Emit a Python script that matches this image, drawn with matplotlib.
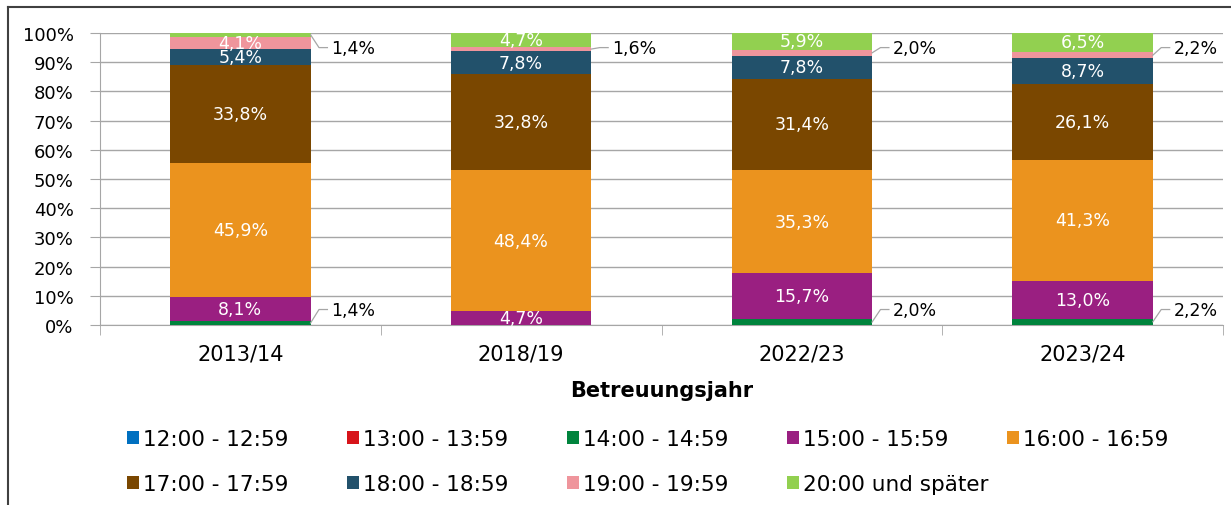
import numpy as np
import matplotlib
matplotlib.use("Agg")
import matplotlib.pyplot as plt
from matplotlib.lines import Line2D
from matplotlib.ticker import FixedLocator

# Betreuungsjahre und Anteile (%) je Abholzeit
years = ["2013/14", "2018/19", "2022/23", "2023/24"]
labels = ["12:00 - 12:59", "13:00 - 13:59", "14:00 - 14:59", "15:00 - 15:59",
          "16:00 - 16:59", "17:00 - 17:59", "18:00 - 18:59", "19:00 - 19:59",
          "20:00 und später"]
v12 = [0.0, 0.0, 0.0, 0.0]
v13 = [0.0, 0.0, 0.0, 0.0]
v14 = [1.4, 0.0, 2.0, 2.2]
v15 = [8.1, 4.7, 15.7, 13.0]
v16 = [45.9, 48.4, 35.3, 41.3]
v17 = [33.8, 32.8, 31.4, 26.1]
v18 = [5.4, 7.8, 7.8, 8.7]
v19 = [4.1, 1.6, 2.0, 2.2]
v20 = [1.4, 4.7, 5.9, 6.5]
colors = ["#0070C0", "#D7141A", "#00843D", "#9A1F81", "#EB931E",
          "#7A4700", "#22516B", "#EF959C", "#92D050"]

series = [v12, v13, v14, v15, v16, v17, v18, v19, v20]

plt.rcParams['font.family'] = ['DejaVu Sans']
fig = plt.figure(figsize=(12.31, 5.06), dpi=100)
ax = fig.add_axes([100 / 1231, 180 / 506, 1123 / 1231, 292 / 506])

x = np.arange(len(years))
w = 0.5
bottom = np.zeros(len(years))
handles = []
for vals, col, lab in zip(series, colors, labels):
    vals = np.array(vals)
    b = ax.bar(x, vals, w, bottom=bottom, color=col, label=lab, zorder=3)
    handles.append(b)
    for i, v in enumerate(vals):
        if v <= 0:
            continue
        txt = f"{v:.1f}%".replace(".", ",")
        yc = bottom[i] + v / 2
        if v >= 3:
            ax.text(x[i], yc, txt, ha="center", va="center", color="white",
                    fontsize=12.5, zorder=4)
        else:
            # Beschriftung mit Führungslinie rechts neben dem Balken
            yl = 95.0 if yc > 50 else 5.3
            x0 = x[i] + w / 2
            ax.plot([x0, x0 + 0.03, x0 + 0.06], [yc, yl, yl], color="#A6A6A6",
                    lw=0.9, zorder=4, clip_on=False)
            ax.text(x0 + 0.075, yl, txt, ha="left", va="center",
                    color="black", fontsize=12.5, zorder=4)
    bottom += vals

ax.set_ylim(0, 100)
ax.set_xlim(-0.5, 3.5)
ax.set_yticks(np.arange(0, 101, 10))
ax.set_yticklabels([f"{t}%" for t in range(0, 101, 10)], fontsize=13)
ax.set_xticks(x)
ax.set_xticklabels(years, fontsize=15)
ax.xaxis.set_minor_locator(FixedLocator([-0.5, 0.5, 1.5, 2.5, 3.5]))
ax.tick_params(axis="x", which="major", length=0, pad=13)
ax.tick_params(axis="x", which="minor", length=7, color="#A6A6A6")
ax.tick_params(axis="y", length=7, color="#A6A6A6", pad=12)
ax.grid(axis="y", color="#A6A6A6", lw=1, zorder=0)
for s in ["top", "right"]:
    ax.spines[s].set_visible(False)
for s in ["left", "bottom"]:
    ax.spines[s].set_color("#A6A6A6")
ax.set_xlabel("Betreuungsjahr", fontsize=15, fontweight="bold", labelpad=12)

# Legende in zwei Zeilen
leg_kw = dict(loc="center left", frameon=False, fontsize=15.5,
              handlelength=0.55, handleheight=0.55, handletextpad=0.2,
              columnspacing=2.72, borderaxespad=0, borderpad=0)
fig.legend(handles[:5], labels[:5], ncol=5,
           bbox_to_anchor=(127 / 1231, 1 - 440 / 506), **leg_kw)
fig.legend(handles[5:], labels[5:], ncol=4,
           bbox_to_anchor=(127 / 1231, 1 - 485 / 506), **leg_kw)

# Rahmen oben und links
fig.add_artist(Line2D([8 / 1231, 1], [1 - 8 / 506, 1 - 8 / 506],
                      color="#404040", lw=1.5, transform=fig.transFigure))
fig.add_artist(Line2D([8 / 1231, 8 / 1231], [0, 1 - 8 / 506],
                      color="#404040", lw=1.5, transform=fig.transFigure))

fig.savefig("out.png", dpi=100)
